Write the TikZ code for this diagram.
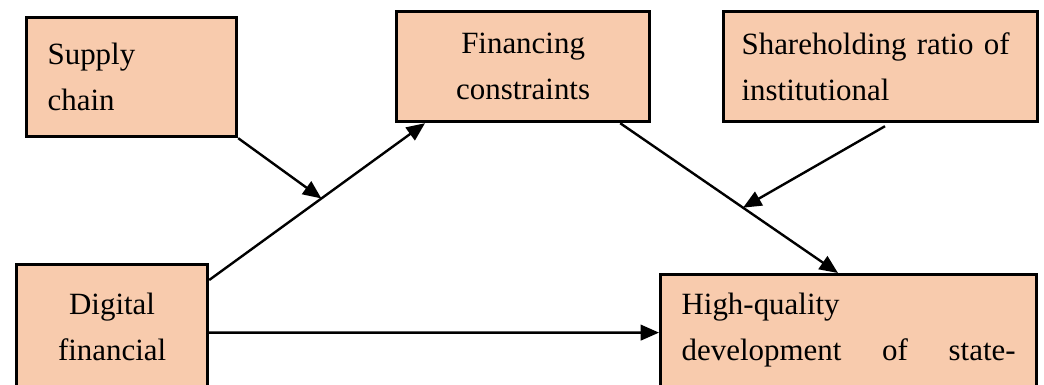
\documentclass[tikz,border=0pt]{standalone}
\usepackage{fontspec}
\setmainfont{Liberation Serif}
\usepackage{tikz}
\usetikzlibrary{calc,positioning,arrows.meta}
\usepackage{xcolor}
\definecolor{mypeach}{RGB}{248,203,173}

\begin{document}
\begin{tikzpicture}[x=0.25mm,y=-0.25mm,
  box/.style={draw, line width=0.8mm, fill=mypeach, rectangle, anchor=north west,
    font=\fontsize{22}{32.5}\selectfont},
  arr/.style={line width=0.6mm, -{Triangle[length=4.6mm,width=3.9mm]}}]
  \useasboundingbox (0,0) rectangle (1044,385);
  \clip (0,0) rectangle (1044,385);

  % boxes
  \node[box, minimum width=52.5mm, minimum height=29.75mm, inner xsep=5.25mm,
    text width=42mm, align=left] (sup) at (25,16) {Supply\\chain};
  \node[box, minimum width=63.25mm, minimum height=27.5mm, inner xsep=2mm,
    text width=59.25mm, align=center] (fin) at (395,10) {Financing\\constraints};
  \node[box, minimum width=78.5mm, minimum height=27.5mm, inner xsep=4.5mm,
    text width=69.5mm, align=left] (share) at (722,10) {Shareholding ratio of\\institutional};
  \node[box, minimum width=47.75mm, minimum height=31mm, inner xsep=2mm,
    text width=43.75mm, align=center] (dig) at (15,263) {Digital\\financial};
  \node[box, minimum width=94mm, minimum height=41mm, inner xsep=5.25mm,
    text width=83.5mm, align=left] (high) at (659,273)
    {High-quality\\development \hfill of \hfill state-\\\strut};

  % main paths
  \draw[arr] ($(dig.north east)+(0,17)$) -- ($(fin.south west)+(30,0)$) coordinate[pos=0.52] (m1);
  \draw[arr] ($(fin.south east)+(-31,0)$) -- ($(high.north west)+(179,0)$) coordinate[pos=0.564] (m2);
  \draw[arr] ($(dig.east)+(0,6)$) -- ($(high.west)+(0,-24)$);

  % moderators
  \draw[arr] (sup.south east) -- (m1);
  \draw[arr] ($(share.south west)+(163,3)$) -- (m2);
\end{tikzpicture}
\end{document}
